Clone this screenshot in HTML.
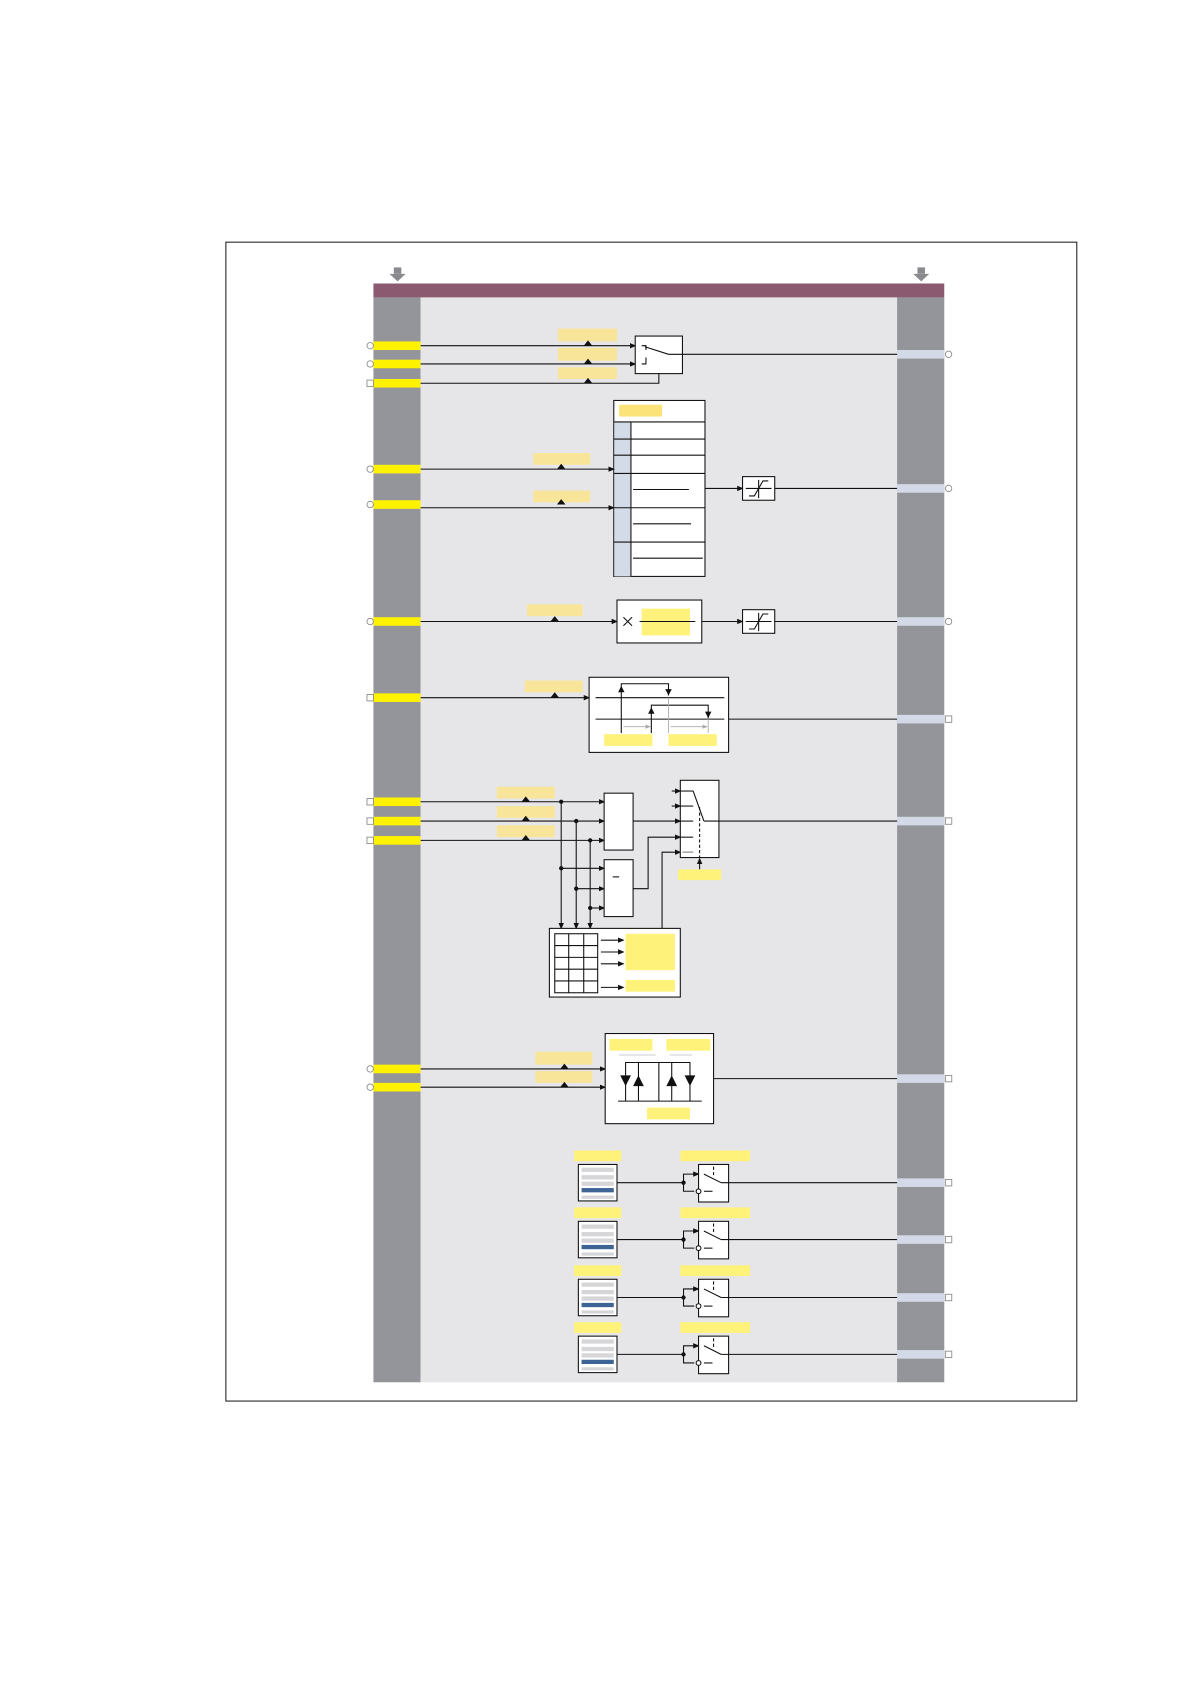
<!DOCTYPE html>
<html><head><meta charset="utf-8"><style>html,body{margin:0;padding:0;background:#fff}svg{display:block}</style></head><body>
<svg width="1190" height="1684" viewBox="0 0 1109 1569" xmlns="http://www.w3.org/2000/svg">
<defs>
<marker id="a" markerWidth="6" markerHeight="6" refX="5" refY="3" orient="auto" markerUnits="userSpaceOnUse"><path d="M0,0.5 L6,3 L0,5.5z" fill="#111"/></marker>
<marker id="g" markerWidth="5" markerHeight="5" refX="4.5" refY="2.5" orient="auto" markerUnits="userSpaceOnUse"><path d="M0,0.5 L5,2.5 L0,4.5z" fill="#aaa"/></marker>
</defs>
<rect x="210.5" y="225.5" width="793" height="1080" fill="#fff" stroke="#222" stroke-width="1"/>
<g fill="#8a8a8e"><rect x="367" y="249" width="7" height="6"/><path d="M363,255 L378,255 L370.5,262z"/><rect x="855" y="249" width="7" height="6"/><path d="M851,255 L866,255 L858.5,262z"/></g>
<rect x="348" y="264" width="532" height="13" fill="#8c5a70"/>
<rect x="348" y="277" width="44" height="1011" fill="#94959a"/>
<rect x="836" y="277" width="44" height="1011" fill="#94959a"/>
<rect x="392" y="277" width="444" height="1011" fill="#e6e6e8"/>

<g fill="#fff200">
<rect x="348" y="318" width="44" height="8"/><rect x="348" y="335" width="44" height="8"/><rect x="348" y="353" width="44" height="8"/>
<rect x="348" y="433" width="44" height="8"/><rect x="348" y="466" width="44" height="8"/>
<rect x="348" y="575" width="44" height="8"/><rect x="348" y="646" width="44" height="8"/>
<rect x="348" y="743" width="44" height="8"/><rect x="348" y="761" width="44" height="8"/><rect x="348" y="779" width="44" height="8"/>
<rect x="348" y="992" width="44" height="8"/><rect x="348" y="1009" width="44" height="8"/>
</g>
<g fill="#d3d9e6">
<rect x="836" y="326" width="44" height="8"/><rect x="836" y="451" width="44" height="8"/><rect x="836" y="575" width="44" height="8"/><rect x="836" y="666" width="44" height="8"/><rect x="836" y="761" width="44" height="8"/><rect x="836" y="1001" width="44" height="8"/><rect x="836" y="1098" width="44" height="8"/><rect x="836" y="1151" width="44" height="8"/><rect x="836" y="1205" width="44" height="8"/><rect x="836" y="1258" width="44" height="8"/>
</g>
<g fill="#fff" stroke="#888" stroke-width="0.8">
<circle cx="345" cy="322" r="3"/><circle cx="345" cy="339" r="3"/><rect x="342" y="354" width="6" height="6"/>
<circle cx="345" cy="437" r="3"/><circle cx="345" cy="470" r="3"/><circle cx="345" cy="579" r="3"/><rect x="342" y="647" width="6" height="6"/>
<rect x="342" y="744" width="6" height="6"/><rect x="342" y="762" width="6" height="6"/><rect x="342" y="780" width="6" height="6"/>
<circle cx="345" cy="996" r="3"/><circle cx="345" cy="1013" r="3"/>
<circle cx="884" cy="330" r="3"/><circle cx="884" cy="455" r="3"/><circle cx="884" cy="579" r="3"/><rect x="881" y="667" width="6" height="6"/><rect x="881" y="762" width="6" height="6"/><rect x="881" y="1002" width="6" height="6"/><rect x="881" y="1099" width="6" height="6"/><rect x="881" y="1152" width="6" height="6"/><rect x="881" y="1206" width="6" height="6"/><rect x="881" y="1259" width="6" height="6"/>
</g>
<g fill="#f8e59a">
<rect x="520" y="306" width="55" height="12"/><rect x="520" y="324" width="55" height="12"/><rect x="520" y="342" width="55" height="11"/>
<rect x="497" y="422" width="53" height="11"/><rect x="497" y="457" width="53" height="11"/>
<rect x="491" y="563" width="52" height="11"/><rect x="489" y="634" width="54" height="11"/>
<rect x="463" y="733" width="54" height="11"/><rect x="463" y="751" width="54" height="11"/><rect x="463" y="769" width="54" height="11"/>
<rect x="499" y="980" width="53" height="12"/><rect x="499" y="998" width="53" height="11"/>
</g>
<g fill="#111">
<path d="M544,322 L552,322 L548,317z"/><path d="M544,339 L552,339 L548,334z"/><path d="M544,357 L552,357 L548,352z"/>
<path d="M519,437 L527,437 L523,432z"/><path d="M519,470 L527,470 L523,465z"/><path d="M513,579 L521,579 L517,574z"/><path d="M513,650 L521,650 L517,645z"/>
<path d="M486,747 L494,747 L490,742z"/><path d="M486,765 L494,765 L490,760z"/><path d="M486,783 L494,783 L490,778z"/>
<path d="M522,996 L530,996 L526,991z"/><path d="M522,1013 L530,1013 L526,1008z"/>
</g>
<g stroke="#111" stroke-width="1" fill="none">
<line x1="392" y1="322" x2="592" y2="322" marker-end="url(#a)"/>
<line x1="392" y1="339" x2="592" y2="339" marker-end="url(#a)"/>
<polyline points="392,357 614,357 614,327" marker-end="url(#a)"/>
<rect x="592" y="313" width="44" height="35" fill="#fff"/>
<polyline points="598,322 602,322 602,326"/><polyline points="598,339 602,339 602,333"/>
<line x1="601" y1="323" x2="623" y2="330"/><line x1="623" y1="330" x2="836" y2="330"/>
<rect x="572" y="373" width="85" height="164" fill="#fff"/>
<rect x="572.5" y="393" width="16" height="144" fill="#d3dbe8" stroke="none"/>
<line x1="572" y1="393" x2="657" y2="393"/><line x1="588" y1="393" x2="588" y2="537"/>
<line x1="572" y1="409" x2="657" y2="409"/><line x1="572" y1="424" x2="657" y2="424"/><line x1="572" y1="441" x2="657" y2="441"/><line x1="572" y1="473" x2="657" y2="473"/><line x1="572" y1="505" x2="657" y2="505"/>
<line x1="590" y1="456" x2="642" y2="456"/><line x1="590" y1="488" x2="644" y2="488"/><line x1="590" y1="520" x2="655" y2="520"/>
<line x1="392" y1="437" x2="572" y2="437" marker-end="url(#a)"/>
<line x1="392" y1="473" x2="572" y2="473" marker-end="url(#a)"/>
<line x1="657" y1="455" x2="692" y2="455" marker-end="url(#a)"/>
<rect x="692" y="444" width="30" height="22" fill="#fff"/>
<line x1="695" y1="455" x2="719" y2="455"/><line x1="707" y1="447" x2="707" y2="464"/><polyline points="698,462 703,462 711,448 716,448"/>
<line x1="722" y1="455" x2="836" y2="455"/>
<line x1="392" y1="579" x2="575" y2="579" marker-end="url(#a)"/>
<rect x="575" y="559" width="79" height="40" fill="#fff"/>
<rect x="598" y="567" width="45" height="25" fill="#fff27a" stroke="none"/>
<line x1="596" y1="579" x2="648" y2="579"/>
<line x1="581" y1="575" x2="589" y2="583"/><line x1="589" y1="575" x2="581" y2="583"/>
<line x1="654" y1="579" x2="692" y2="579" marker-end="url(#a)"/>
<rect x="692" y="568" width="30" height="22" fill="#fff"/>
<line x1="695" y1="579" x2="719" y2="579"/><line x1="707" y1="571" x2="707" y2="588"/><polyline points="698,586 703,586 711,572 716,572"/>
<line x1="722" y1="579" x2="836" y2="579"/>
<line x1="392" y1="650" x2="549" y2="650" marker-end="url(#a)"/>
<rect x="549" y="631" width="130" height="70" fill="#fff"/>
<line x1="555" y1="650" x2="675" y2="650"/><line x1="555" y1="670" x2="675" y2="670"/>
<polyline points="579,683 579,637 623,637 623,648" /><polyline points="607,683 607,657 660,657 660,669"/>
<line x1="679" y1="670" x2="836" y2="670"/>
</g>
<rect x="577" y="377" width="40" height="11" fill="#fbe37a"/>
<g fill="#111"><path d="M576,645 L582,645 L579,639z"/><path d="M620,642 L626,642 L623,648z"/><path d="M604,665 L610,665 L607,659z"/><path d="M657,663 L663,663 L660,669z"/></g>
<g stroke="#aaa" stroke-width="0.8"><line x1="623" y1="650" x2="623" y2="683"/><line x1="660" y1="670" x2="660" y2="683"/><line x1="581" y1="677" x2="606" y2="677" marker-end="url(#g)"/><line x1="625" y1="677" x2="659" y2="677" marker-end="url(#g)"/></g>
<rect x="563" y="684" width="45" height="11" fill="#fff27a"/><rect x="623" y="684" width="45" height="11" fill="#fff27a"/>
<g stroke="#111" stroke-width="1" fill="none">
<line x1="392" y1="747" x2="563" y2="747" marker-end="url(#a)"/>
<line x1="392" y1="765" x2="563" y2="765" marker-end="url(#a)"/>
<line x1="392" y1="783" x2="563" y2="783" marker-end="url(#a)"/>
<line x1="523" y1="747" x2="523" y2="865" marker-end="url(#a)"/>
<line x1="537" y1="765" x2="537" y2="865" marker-end="url(#a)"/>
<line x1="550" y1="783" x2="550" y2="865" marker-end="url(#a)"/>
<line x1="523" y1="809" x2="563" y2="809" marker-end="url(#a)"/>
<line x1="537" y1="828" x2="563" y2="828" marker-end="url(#a)"/>
<line x1="550" y1="846" x2="563" y2="846" marker-end="url(#a)"/>
<rect x="563" y="739" width="27" height="53" fill="#fff"/>
<rect x="563" y="801" width="27" height="53" fill="#fff"/>
<line x1="571" y1="817" x2="577" y2="817"/>
<line x1="590" y1="765" x2="634" y2="765" marker-end="url(#a)"/>
<polyline points="590,828 604,828 604,780 634,780" marker-end="url(#a)"/>
<polyline points="617,865 617,794 634,794" marker-end="url(#a)"/>
<rect x="634" y="727" width="36" height="72" fill="#fff"/>
<line x1="626" y1="737" x2="634" y2="737" marker-end="url(#a)"/><line x1="626" y1="751" x2="634" y2="751" marker-end="url(#a)"/>
<line x1="634" y1="737" x2="646" y2="737"/><line x1="634" y1="751" x2="646" y2="751"/><line x1="634" y1="765" x2="646" y2="765"/><line x1="634" y1="780" x2="646" y2="780"/>
<line x1="646" y1="737" x2="656" y2="765"/><line x1="656" y1="765" x2="836" y2="765"/>
<line x1="652" y1="752" x2="652" y2="799" stroke-dasharray="3,2"/>
<line x1="652" y1="810" x2="652" y2="800" marker-end="url(#a)"/>
<rect x="512" y="865" width="122" height="64" fill="#fff"/>
<rect x="517" y="870" width="40" height="55"/>
<line x1="530" y1="870" x2="530" y2="925"/><line x1="544" y1="870" x2="544" y2="925"/>
<line x1="517" y1="881" x2="557" y2="881"/><line x1="517" y1="892" x2="557" y2="892"/><line x1="517" y1="903" x2="557" y2="903"/><line x1="517" y1="914" x2="557" y2="914"/>
<line x1="560" y1="876" x2="581" y2="876" marker-end="url(#a)"/><line x1="560" y1="887" x2="581" y2="887" marker-end="url(#a)"/><line x1="560" y1="898" x2="581" y2="898" marker-end="url(#a)"/><line x1="560" y1="920" x2="581" y2="920" marker-end="url(#a)"/>
</g>
<line x1="636" y1="794" x2="646" y2="794" stroke="#aaa" stroke-width="1.5"/>
<g fill="#111"><circle cx="523" cy="747" r="2"/><circle cx="537" cy="765" r="2"/><circle cx="550" cy="783" r="2"/><circle cx="523" cy="809" r="2"/><circle cx="537" cy="828" r="2"/><circle cx="550" cy="846" r="2"/></g>
<rect x="583" y="870" width="46" height="34" fill="#fff27a"/><rect x="583" y="913" width="46" height="11" fill="#fff27a"/>
<rect x="632" y="810" width="40" height="10" fill="#fff27a"/>
<g stroke="#111" stroke-width="1" fill="none">
<line x1="392" y1="996" x2="564" y2="996" marker-end="url(#a)"/>
<line x1="392" y1="1013" x2="564" y2="1013" marker-end="url(#a)"/>
<rect x="564" y="963" width="101" height="84" fill="#fff"/>
<polyline points="583,1026 583,990 643,990 643,1026"/><line x1="595" y1="990" x2="595" y2="1026"/><line x1="626" y1="990" x2="626" y2="1026"/><line x1="614" y1="990" x2="614" y2="1026"/>
<line x1="576" y1="1026" x2="654" y2="1026"/>
<line x1="665" y1="1005" x2="836" y2="1005"/>
</g>
<g fill="#111"><path d="M578,1002 L588,1002 L583,1012z"/><path d="M590,1012 L600,1012 L595,1002z"/><path d="M621,1012 L631,1012 L626,1002z"/><path d="M638,1002 L648,1002 L643,1012z"/></g>
<g stroke="#bbb" stroke-width="0.7"><line x1="577" y1="983" x2="611" y2="983"/><line x1="624" y1="983" x2="645" y2="983"/></g>
<rect x="568" y="968" width="40" height="11" fill="#fff27a"/><rect x="621" y="968" width="41" height="11" fill="#fff27a"/><rect x="603" y="1032" width="40" height="11" fill="#fff27a"/>
<g id="r1">
<rect x="535" y="1072" width="44" height="10" fill="#fff27a"/><rect x="634" y="1072" width="65" height="10" fill="#fff27a"/>
<rect x="539" y="1085" width="36" height="34" fill="#fff" stroke="#111"/>
<g fill="#d6d6d8"><rect x="542" y="1088" width="30" height="4"/><rect x="542" y="1095" width="30" height="4"/><rect x="542" y="1101" width="30" height="4"/><rect x="542" y="1114" width="30" height="3"/></g>
<rect x="542" y="1107" width="30" height="4" fill="#3d6494"/>
<g stroke="#111" fill="none"><line x1="575" y1="1102" x2="637" y2="1102"/><polyline points="637,1102 637,1094 651,1094" marker-end="url(#a)"/><polyline points="637,1102 637,1110 647,1110"/><rect x="651" y="1085" width="28" height="35" fill="#fff"/><line x1="656" y1="1094" x2="672" y2="1102"/><line x1="672" y1="1102" x2="836" y2="1102"/><line x1="656" y1="1110" x2="664" y2="1110"/><line x1="665" y1="1087" x2="665" y2="1097" stroke-dasharray="3,2"/></g>
<circle cx="637" cy="1102" r="2" fill="#111"/><circle cx="651" cy="1110" r="2.2" fill="#fff" stroke="#111"/>
</g>
<use href="#r1" y="53"/><use href="#r1" y="107"/><use href="#r1" y="160"/>
</svg>
</body></html>
